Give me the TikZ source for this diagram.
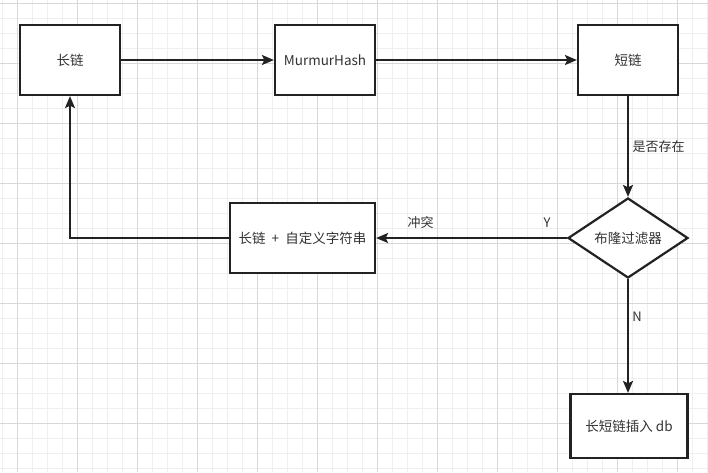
\documentclass[tikz,border=0pt]{standalone}
\usepackage{fontspec}
\setmainfont{Noto Sans CJK SC}
\usetikzlibrary{arrows.meta,shapes.geometric}
\definecolor{linec}{HTML}{222222}
\definecolor{textc}{HTML}{333333}
\definecolor{minorg}{HTML}{EFEFEF}
\definecolor{majorg}{HTML}{D8D8D8}
\tikzset{
  x=1pt,y=-1pt,
  box/.style={draw=linec,line width=2.2pt,fill=white,minimum width=#1,minimum height=70pt,inner sep=0pt,text=textc,font=\fontsize{13.5}{15}\selectfont},
  dia/.style={draw=linec,line width=2.2pt,fill=white,diamond,aspect=1.5,minimum width=120pt,minimum height=80pt,inner sep=0pt,text=textc,font=\fontsize{13.5}{15}\selectfont},
  conn/.style={draw=linec,line width=2.2pt,-{Stealth[length=12pt,width=10pt,inset=2.5pt]}},
  lbl/.style={text=textc,font=\fontsize{13}{15}\selectfont,inner sep=0pt}
}
\begin{document}
\begin{tikzpicture}
\useasboundingbox (0,0) rectangle (708,472);
\fill[white] (0,0) rectangle (708,472);
% grid
\foreach \k in {0,...,47} {
  \draw[minorg,line width=1pt] ({2.3+15*\k},0) -- ({2.3+15*\k},472);
}
\foreach \k in {0,...,31} {
  \draw[minorg,line width=1pt] (0,{3.3+15*\k}) -- (708,{3.3+15*\k});
}
\foreach \k in {0,...,11} {
  \draw[majorg,line width=1pt] ({17.3+60*\k},0) -- ({17.3+60*\k},472);
}
\foreach \k in {0,...,7} {
  \draw[majorg,line width=1pt] (0,{3.3+60*\k}) -- (708,{3.3+60*\k});
}
% nodes
\node[box=100pt] (A) at (70,60) {长链};
\node[box=100pt] (B) at (325,60) {MurmurHash};
\node[box=100pt] (C) at (628,60) {短链};
\node[dia] (D) at (628,238) {布隆过滤器};
\node[box=145pt] (E) at (302.5,238) {长链\hspace{0.45em}+\hspace{0.45em}自定义字符串};
\node[box=117pt,minimum height=64pt] (F) at (629,426) {长短链插入 db};
\coordinate (K) at (70,238);
% connectors
\draw[conn] (A) -- (B);
\draw[conn] (B) -- (C);
\draw[conn] (C) -- (D);
\draw[conn] (D.west) -- (E.east);
\draw[conn] (E.west) -- (K) -- (A.south);
\draw[conn] (D.south) -- (F.north -| D.south);
% labels
\node[lbl] (l1) at (658.5,147) {是否存在};
\node[lbl] (l2) at (420.5,223) {冲突};
\node[lbl] (l3) at (547,223) {Y};
\node[lbl] (l4) at (637,317) {N};
\end{tikzpicture}
\end{document}
